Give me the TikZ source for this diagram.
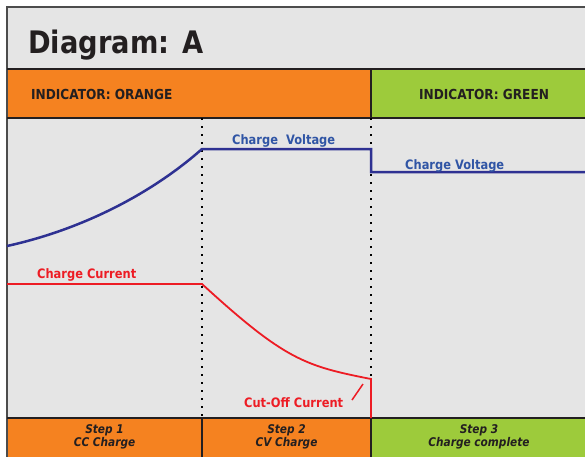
\documentclass[tikz,border=0pt]{standalone}
\usepackage{fontspec}
\setmainfont{DejaVu Sans}[FakeStretch=0.88]
\definecolor{panelgray}{HTML}{E5E5E5}
\definecolor{indorange}{HTML}{F58220}
\definecolor{indgreen}{HTML}{9DCB3B}
\definecolor{voltblue}{HTML}{2E3192}
\definecolor{volttext}{HTML}{3055A5}
\definecolor{currred}{HTML}{ED1C24}
\definecolor{inkdark}{HTML}{231F20}
\begin{document}
\begin{tikzpicture}[x=1pt,y=-1pt,
    every node/.style={inner sep=0pt,text=inkdark},
    ind/.style={font=\fontsize{13.8}{14}\selectfont\bfseries,anchor=base west},
    stp/.style={font=\fontsize{12}{11.5}\selectfont\bfseries\itshape,align=center},
    lbl/.style={font=\fontsize{13}{13}\selectfont\bfseries,anchor=base west},
    rule/.style={line width=2pt,draw=inkdark},
    divider/.style={line width=1.5pt,dash pattern=on 1.5pt off 6.5pt}]
  \useasboundingbox (0,0) rectangle (585,456);
  \clip (0,0) rectangle (585,456);
  \fill[panelgray] (7,7) rectangle (590,460);
  \fill[indorange] (7,69) rectangle (371,118);
  \fill[indgreen] (371,69) rectangle (590,118);
  \fill[indorange] (7,418) rectangle (371,460);
  \fill[indgreen] (371,418) rectangle (590,460);
  \draw[rule,draw=black!70] (590,7) -- (7,7) -- (7,460);
  \draw[rule] (7,69) -- (590,69);
  \draw[rule] (7,118) -- (590,118);
  \draw[rule] (7,418) -- (590,418);
  \draw[rule] (371,69) -- (371,118);
  \draw[rule] (202,418) -- (202,460);
  \draw[rule] (371,418) -- (371,460);
  \draw[divider] (202,118) -- (202,418);
  \draw[divider] (371,118) -- (371,418);
  \node[font=\fontsize{31}{31}\selectfont\bfseries,anchor=base west] (title) at (28,53) {Diagram: A};
  \node[ind] (indorange) at (31,99.5) {INDICATOR: ORANGE};
  \node[ind] (indgreen) at (419,99.5) {INDICATOR: GREEN};
  \node[stp] (step1) at (104.5,437) {Step 1\\CC Charge};
  \node[stp] (step2) at (286.5,437) {Step 2\\CV Charge};
  \node[stp] (step3) at (479,437) {Step 3\\Charge complete};
  \coordinate (v0) at (7,246);
  \coordinate (v1) at (202,149);
  \coordinate (v2) at (371,149);
  \coordinate (v3) at (371,172);
  \coordinate (v4) at (590,172);
  \draw[voltblue,line width=2.5pt] (v0) .. controls (80,230) and (150,195) .. (v1) -- (v2) -- (v3) -- (v4);
  \coordinate (c0) at (7,284);
  \coordinate (c1) at (202,284);
  \coordinate (c2) at (371,379);
  \coordinate (c3) at (371,418);
  \draw[currred,line width=1.8pt] (c0) -- (c1) .. controls (285,360) and (305,366) .. (c2) -- (c3);
  \coordinate (t0) at (352,400);
  \coordinate (t1) at (363,384);
  \draw[currred,line width=1.5pt] (t0) -- (t1);
  \node[lbl,text=volttext] (cvlabel) at (232,144.5) {Charge\ \ Voltage};
  \node[lbl,text=volttext] (cvhold) at (405,169) {Charge Voltage};
  \node[lbl,text=currred] (cclabel) at (37,278) {Charge Current};
  \node[lbl,text=currred] (cutlabel) at (244,407.5) {Cut-Off Current};
\end{tikzpicture}
\end{document}
